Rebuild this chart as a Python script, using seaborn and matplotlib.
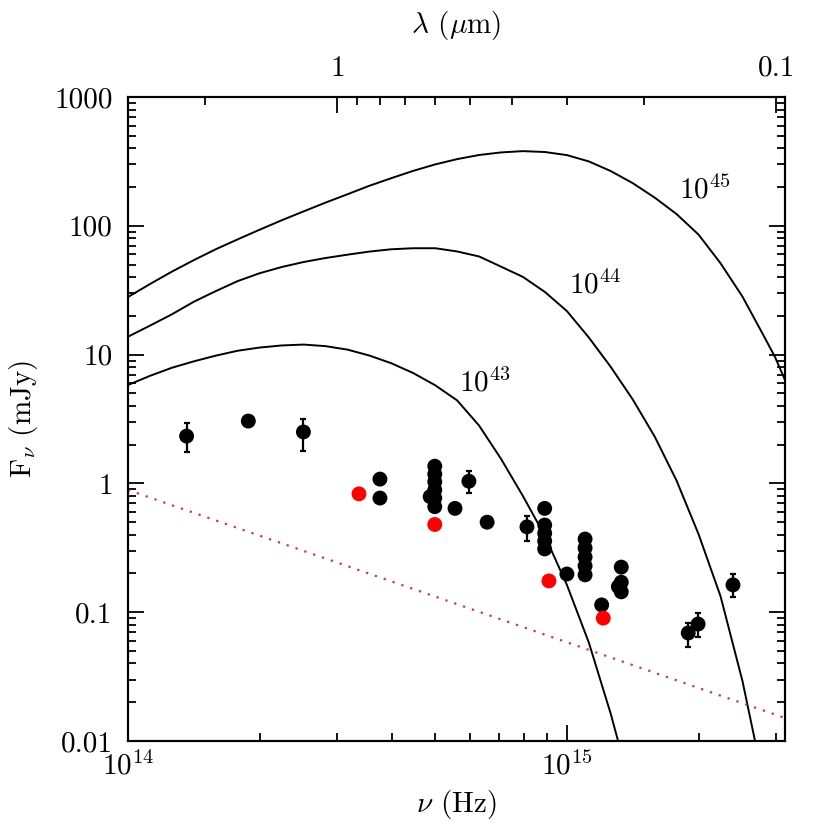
import numpy as np
import pandas as pd
import matplotlib
matplotlib.use('Agg')
import matplotlib.pyplot as plt
import seaborn as sns
from matplotlib.ticker import FixedLocator, FixedFormatter, NullFormatter, LogLocator

# model spectra (nu in Hz, F in mJy)
nu_45 = [1.000e14, 1.122e14, 1.259e14, 1.413e14, 1.585e14, 1.778e14, 1.995e14, 2.239e14,
         2.512e14, 2.818e14, 3.162e14, 3.548e14, 3.981e14, 4.467e14, 5.012e14, 5.623e14,
         6.310e14, 7.079e14, 7.943e14, 8.913e14, 1.000e15, 1.122e15, 1.259e15, 1.413e15,
         1.585e15, 1.778e15, 1.995e15, 2.239e15, 2.512e15, 2.818e15, 2.980e15, 3.140e15]
f_45 = [28.0, 35.3, 44.1, 54.2, 65.8, 78.5, 93.3, 110.4,
        129.4, 151.4, 175.8, 204.6, 234.4, 267.3, 299.9, 329.6,
        354.8, 371.5, 380.2, 374.1, 354.0, 316.2, 266.1, 214.3,
        165.6, 123.3, 85.5, 51.2, 28.2, 13.7, 9.57, 6.35]

nu_44 = [1.000e14, 1.122e14, 1.259e14, 1.413e14, 1.585e14, 1.778e14, 1.995e14, 2.239e14,
         2.512e14, 2.818e14, 3.162e14, 3.548e14, 3.981e14, 4.467e14, 5.012e14, 5.623e14,
         6.310e14, 7.079e14, 7.943e14, 8.913e14, 1.000e15, 1.122e15, 1.259e15, 1.413e15,
         1.585e15, 1.778e15, 1.995e15, 2.239e15, 2.512e15, 2.680e15]
f_44 = [13.77, 16.79, 20.56, 25.76, 31.12, 37.24, 42.85, 47.86,
        52.36, 56.23, 59.70, 63.10, 65.77, 66.99, 66.99, 63.24,
        57.81, 48.19, 40.09, 30.62, 21.78, 13.58, 8.02, 4.48,
        2.31, 1.05, 0.404, 0.133, 0.0292, 0.0102]

nu_43 = [1.000e14, 1.122e14, 1.259e14, 1.413e14, 1.585e14, 1.778e14, 1.995e14, 2.239e14,
         2.512e14, 2.818e14, 3.162e14, 3.548e14, 3.981e14, 4.467e14, 5.012e14, 5.623e14,
         6.310e14, 7.079e14, 7.943e14, 8.913e14, 1.000e15, 1.122e15, 1.259e15, 1.306e15]
f_43 = [5.81, 6.84, 7.91, 8.87, 9.82, 10.72, 11.35, 11.78,
        11.97, 11.64, 10.94, 9.84, 8.57, 7.19, 5.78, 4.41,
        2.81, 1.55, 0.796, 0.390, 0.163, 0.0581, 0.0162, 0.0102]

curve_labels = [r'10$^{45}$', r'10$^{44}$', r'10$^{43}$']
label_nu = [2.06e15, 1.16e15, 6.5e14]
label_f = [190, 34.7, 6.0]

# power law (dotted)
nu_pl = [1.0e14, 3.14e15]
f_pl = [0.89, 0.0151]

# photometry without error bars
nu_pts = [1.88e14, 3.75e14, 3.75e14,
          5.0e14, 5.0e14, 5.0e14, 5.0e14, 5.0e14, 5.0e14, 4.88e14,
          5.56e14, 6.58e14,
          8.9e14, 8.9e14, 8.9e14, 8.9e14, 8.9e14,
          1.0e15,
          1.10e15, 1.10e15, 1.10e15, 1.10e15, 1.10e15,
          1.20e15,
          1.33e15, 1.33e15, 1.33e15, 1.31e15]
f_pts = [3.05, 1.08, 0.77,
         1.36, 1.18, 1.03, 0.89, 0.77, 0.66, 0.79,
         0.64, 0.50,
         0.64, 0.475, 0.41, 0.357, 0.31,
         0.198,
         0.37, 0.315, 0.268, 0.229, 0.195,
         0.114,
         0.224, 0.171, 0.144, 0.158]

# photometry with error bars
nu_err = [1.36e14, 2.51e14, 5.98e14, 8.11e14, 1.89e15, 1.99e15, 2.39e15]
f_err = [2.33, 2.51, 1.04, 0.46, 0.069, 0.081, 0.163]
f_lo = [1.75, 1.79, 0.84, 0.36, 0.054, 0.064, 0.131]
f_hi = [2.94, 3.16, 1.25, 0.56, 0.082, 0.099, 0.198]

# red points
nu_red = [3.36e14, 5.0e14, 9.1e14, 1.21e15]
f_red = [0.83, 0.48, 0.175, 0.090]

# top axis: wavelength in micron
c_um = 3.0e14
lam_major = [1, 0.1]
lam_major_labels = ['1', '0.1']
lam_minor = [2, 0.9, 0.8, 0.7, 0.6, 0.5, 0.4, 0.3, 0.2]

y_ticks = [0.01, 0.1, 1, 10, 100, 1000]
y_ticklabels = ['0.01', '0.1', '1', '10', '100', '1000']

sns.set_style('ticks')
plt.rcParams['font.family'] = 'cmr10'
plt.rcParams['mathtext.fontset'] = 'cm'
plt.rcParams['axes.formatter.use_mathtext'] = True
plt.rcParams['axes.unicode_minus'] = False
plt.rcParams['text.color'] = 'black'
plt.rcParams['axes.labelcolor'] = 'black'
plt.rcParams['xtick.color'] = 'black'
plt.rcParams['ytick.color'] = 'black'
plt.rcParams['axes.edgecolor'] = 'black'

fig = plt.figure(figsize=(8.3, 8.3), dpi=100)
ax = fig.add_axes([0.1542, 0.1072, 0.7916, 0.7759])
ax.set_xscale('log')
ax.set_yscale('log')
ax.set_xlim(1.0e14, 3.14e15)
ax.set_ylim(0.01, 1000)

# curves
for nu, f in [(nu_45, f_45), (nu_44, f_44), (nu_43, f_43)]:
    df = pd.DataFrame({'nu': nu, 'f': f})
    sns.lineplot(data=df, x='nu', y='f', ax=ax, color='black', lw=1.4,
                 sort=False, estimator=None)
for txt, x, y in zip(curve_labels, label_nu, label_f):
    ax.text(x, y, txt, fontsize=21, ha='center', va='center')

df_pl = pd.DataFrame({'nu': nu_pl, 'f': f_pl})
sns.lineplot(data=df_pl, x='nu', y='f', ax=ax, color='#c43c3c', lw=1.6,
             linestyle=(0, (1, 3.2)), sort=False, estimator=None)

# data points
ax.errorbar(nu_err, f_err,
            yerr=[np.array(f_err) - np.array(f_lo), np.array(f_hi) - np.array(f_err)],
            fmt='none', ecolor='black', elinewidth=1.6, capsize=2.2, capthick=1.6)
sns.scatterplot(x=nu_pts + nu_err, y=f_pts + f_err, ax=ax, color='black',
                s=115, edgecolor='none', zorder=3)
sns.scatterplot(x=nu_red, y=f_red, ax=ax, color='#ff0000', s=115,
                edgecolor='none', zorder=3)

# axes styling
ax.yaxis.set_major_locator(FixedLocator(y_ticks))
ax.yaxis.set_major_formatter(FixedFormatter(y_ticklabels))
ax.yaxis.set_minor_locator(LogLocator(base=10, subs=np.arange(2, 10)))
ax.yaxis.set_minor_formatter(NullFormatter())
ax.xaxis.set_minor_locator(LogLocator(base=10, subs=np.arange(2, 10)))
ax.xaxis.set_minor_formatter(NullFormatter())

ax.tick_params(which='both', direction='in', left=True, right=True, top=False,
               bottom=True, width=1.3, labelsize=21)
ax.tick_params(which='major', length=11.5)
ax.tick_params(which='minor', length=5.8)
ax.tick_params(axis='y', pad=11)
ax.tick_params(axis='x', pad=7)
for sp in ax.spines.values():
    sp.set_linewidth(1.5)
    sp.set_color('black')

ax.set_xlabel(r'$\nu$ (Hz)', fontsize=21, labelpad=6)
ax.set_ylabel(r'F$_\nu$ (mJy)', fontsize=21, labelpad=10)

# wavelength axis on top
ax2 = ax.twiny()
ax2.set_xscale('log')
ax2.set_xlim(ax.get_xlim())
ax2.xaxis.set_major_locator(FixedLocator([c_um / l for l in lam_major]))
ax2.xaxis.set_major_formatter(FixedFormatter(lam_major_labels))
ax2.xaxis.set_minor_locator(FixedLocator([c_um / l for l in lam_minor]))
ax2.xaxis.set_minor_formatter(NullFormatter())
ax2.tick_params(which='both', direction='in', top=True, bottom=False,
                width=1.3, labelsize=21, pad=11)
ax2.tick_params(which='major', length=11.5)
ax2.tick_params(which='minor', length=5.8)
ax2.set_xlabel(r'$\lambda$ ($\mu$m)', fontsize=21, labelpad=16)
for sp in ax2.spines.values():
    sp.set_linewidth(1.5)
    sp.set_color('black')

fig.savefig('out.png', dpi=100)
